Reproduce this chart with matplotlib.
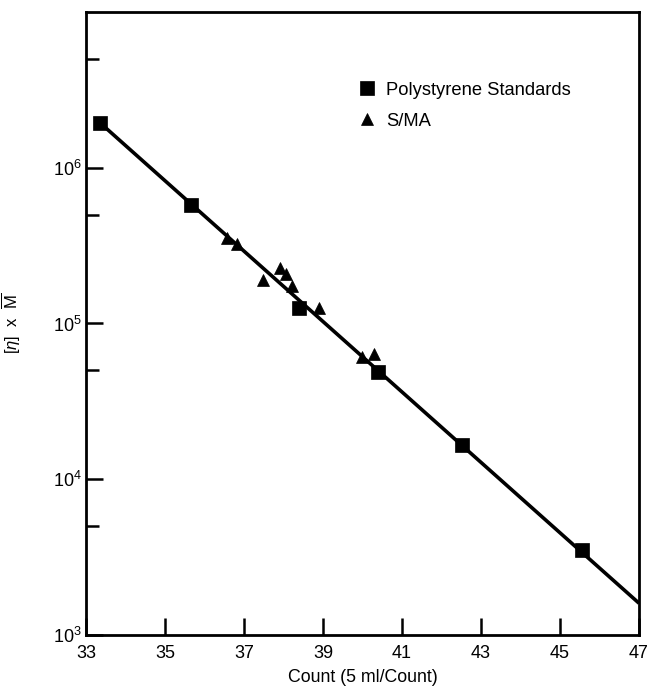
import numpy as np
import matplotlib
matplotlib.use('Agg')
import matplotlib.pyplot as plt

plt.rcParams['font.family'] = ['Liberation Sans', 'DejaVu Sans']
plt.rcParams['mathtext.fontset'] = 'custom'
plt.rcParams['mathtext.rm'] = 'Liberation Sans'
plt.rcParams['mathtext.it'] = 'Liberation Sans:italic'

# polystyrene standards (squares)
ps_count = [33.35, 35.66, 38.39, 40.39, 42.52, 45.56]
ps_val = [1.95e6, 5.8e5, 1.26e5, 4.9e4, 1.65e4, 3.5e3]

# S/MA samples (triangles)
sma_count = [36.57, 36.82, 37.48, 37.91, 38.06, 38.22, 38.90, 39.99, 40.29]
sma_val = [3.56e5, 3.26e5, 1.91e5, 2.26e5, 2.09e5, 1.75e5, 1.25e5, 6.05e4, 6.4e4]

# calibration line end points
line_count = [33.35, 47.0]
line_val = [1.95e6, 1.6e3]

xticks = [33, 35, 37, 39, 41, 43, 45, 47]
yticks = [1e3, 1e4, 1e5, 1e6]
yminor = [5e3, 5e4, 5e5, 5e6]

fig = plt.figure(figsize=(6.51, 6.88), dpi=100)
ax = fig.add_axes([0.132, 0.077, 0.8496, 0.9056])

ax.plot(line_count, line_val, color='black', lw=2.6, zorder=2, solid_capstyle='butt')
ax.plot(ps_count, ps_val, ls='none', marker='s', ms=9.5, mfc='black', mec='black',
        mew=0.5, label='Polystyrene Standards', zorder=3)
ax.plot(sma_count, sma_val, ls='none', marker='^', ms=8.5, mfc='black', mec='black',
        mew=0.5, label='S/MA', zorder=3)

ax.set_yscale('log')
ax.set_xlim(33, 47)
ax.set_ylim(1e3, 1e7)
ax.set_xticks(xticks)
ax.set_yticks(yticks)
ax.set_yticks(yminor, minor=True)
ax.yaxis.set_minor_formatter(matplotlib.ticker.NullFormatter())

for s in ax.spines.values():
    s.set_linewidth(2.0)

ax.tick_params(axis='both', which='major', direction='in', length=12, width=1.8,
               labelsize=13, top=False, right=False)
ax.tick_params(axis='y', which='minor', direction='in', length=9, width=1.8,
               right=False)
ax.tick_params(axis='x', which='major', pad=7)
ax.tick_params(axis='y', which='major', pad=3)

ax.set_xlabel('Count (5 ml/Count)', fontsize=12.8, labelpad=5)
ax.set_ylabel(r'$[\eta]$  x  $\overline{\mathrm{M}}$', fontsize=12)
ax.yaxis.set_label_coords(-0.113, 0.5)

ax.legend(loc='upper left', bbox_to_anchor=(0.494, 0.888), frameon=False,
          fontsize=13.2, handlelength=0.9, handletextpad=0.55, labelspacing=0.75,
          borderpad=0, borderaxespad=0)

fig.savefig('out.png', dpi=100)
